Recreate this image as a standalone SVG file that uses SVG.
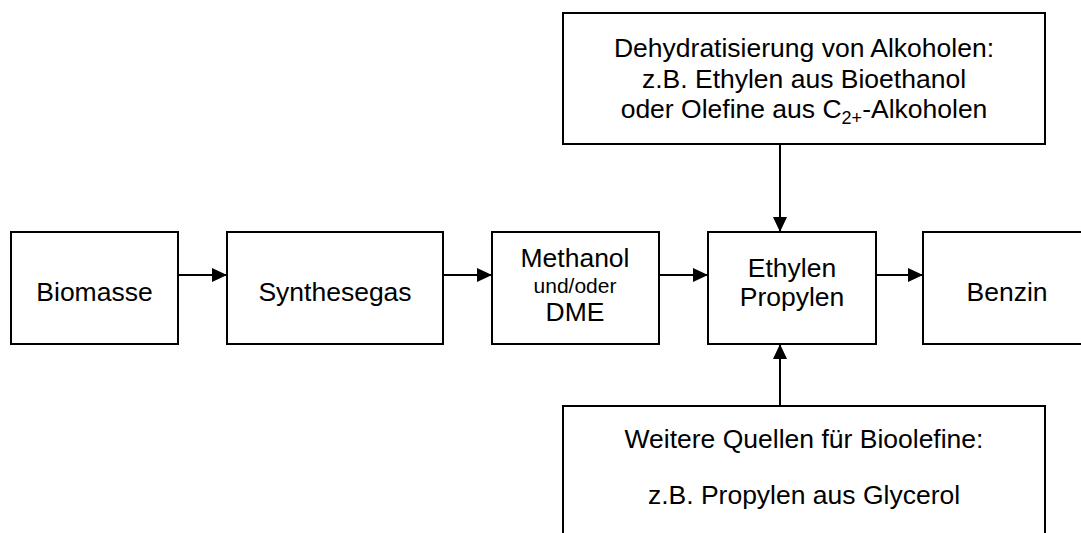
<svg xmlns="http://www.w3.org/2000/svg" width="1081" height="533" viewBox="0 0 1081 533">
<style>
.box{fill:#fff;stroke:#000;stroke-width:2}
text{font-family:"Liberation Sans",Arial,sans-serif;font-size:26.5px;fill:#000;text-anchor:middle}
.sm{font-size:21px}
.sub{font-size:18px}
.con line{stroke:#000;stroke-width:2}
</style>
<defs>
<marker id="ah" viewBox="0 0 15 14" refX="15" refY="7" markerWidth="15" markerHeight="14" markerUnits="userSpaceOnUse" orient="auto">
<path d="M0,0 L15,7 L0,14 Z" fill="#000"/>
</marker>
</defs>
<rect width="1081" height="533" fill="#fff"/>
<g id="biomasse"><rect class="box" x="11" y="232" width="167" height="112"/><text x="94.5" y="301">Biomasse</text></g>
<g id="synthesegas"><rect class="box" x="227" y="232" width="216" height="112"/><text x="335" y="301">Synthesegas</text></g>
<g id="methanol"><rect class="box" x="492" y="232" width="167" height="112"/><text x="575" y="267">Methanol</text><text class="sm" x="575" y="293">und/oder</text><text x="575" y="321">DME</text></g>
<g id="olefine"><rect class="box" x="708" y="232" width="168" height="112"/><text x="792" y="277">Ethylen</text><text x="792" y="306">Propylen</text></g>
<g id="benzin"><rect class="box" x="923" y="232" width="180" height="112"/><text x="1007" y="301">Benzin</text></g>
<g id="dehydratisierung"><rect class="box" x="563" y="13" width="482" height="131"/><text x="804" y="57">Dehydratisierung von Alkoholen:</text><text x="804" y="88">z.B. Ethylen aus Bioethanol</text><text x="804" y="118">oder Olefine aus C<tspan class="sub" dy="6">2+</tspan><tspan dy="-6">-Alkoholen</tspan></text></g>
<g id="weitere"><rect class="box" x="563" y="406" width="482" height="140"/><text x="804" y="448">Weitere Quellen für Bioolefine:</text><text x="804" y="504">z.B. Propylen aus Glycerol</text></g>
<g class="con" id="connectors">
<line x1="178" y1="275" x2="227" y2="275" marker-end="url(#ah)"/>
<line x1="443" y1="275" x2="492" y2="275" marker-end="url(#ah)"/>
<line x1="659" y1="275" x2="708" y2="275" marker-end="url(#ah)"/>
<line x1="876" y1="275" x2="923" y2="275" marker-end="url(#ah)"/>
<line x1="780" y1="144" x2="780" y2="232" marker-end="url(#ah)"/>
<line x1="780" y1="406" x2="780" y2="344" marker-end="url(#ah)"/>
</g>
</svg>
